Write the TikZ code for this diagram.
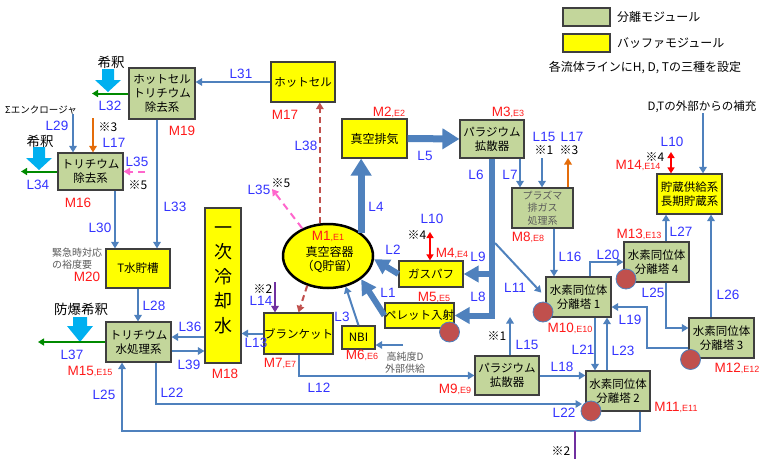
\documentclass[tikz,border=0pt]{standalone}
\usepackage{fontspec}
\setmainfont{Noto Sans CJK JP}
\newfontfamily\arialf{Liberation Sans}
\usetikzlibrary{arrows.meta,shapes.geometric,calc}
\definecolor{gfill}{HTML}{C3D69B}
\definecolor{yfill}{HTML}{FFFF00}
\definecolor{bord}{HTML}{3F3F3F}
\definecolor{steel}{HTML}{4F81BD}
\definecolor{lblue}{HTML}{3333FF}
\definecolor{lred}{HTML}{FF1A1A}
\definecolor{dgreen}{HTML}{008A00}
\definecolor{orng}{HTML}{E46C0A}
\definecolor{purp}{HTML}{7030A0}
\definecolor{pinkd}{HTML}{FF66CC}
\definecolor{brn}{HTML}{C0504D}
\definecolor{cyanA}{HTML}{00B0F0}
\definecolor{gtext}{HTML}{595959}
\newcommand\mlab[2]{M#1{\fontsize{9}{9}\selectfont,E#2}}
\newcommand\blockarr[6]{\fill[cyanA] ({#1-#5},#2) -- ({#1+#5},#2) -- ({#1+#5},#3) -- ({#1+#6},#3) -- (#1,#4) -- ({#1-#6},#3) -- ({#1-#5},#3) -- cycle;}
\tikzset{
  gbox/.style 2 args={draw=bord, line width=1.2pt, fill=gfill, minimum width=#1pt, minimum height=#2pt, inner sep=0pt, align=center, font=\fontsize{11.5}{14}\selectfont},
  ybox/.style 2 args={draw=bord, line width=1.2pt, fill=yfill, minimum width=#1pt, minimum height=#2pt, inner sep=0pt, align=center, font=\fontsize{11.5}{14}\selectfont},
  lb/.style={text=lblue, font=\arialf\fontsize{13.5}{14}\selectfont, inner sep=0pt},
  ml/.style={text=lred, font=\arialf\fontsize{13.5}{14}\selectfont, inner sep=0pt},
  nt/.style={font=\fontsize{12}{12}\selectfont, inner sep=0pt},
  conn/.style={draw=steel, line width=2pt, -{Triangle[width=7.5pt,length=6.5pt]}},
  thk/.style={draw=steel, line width=7pt, -{Triangle[width=20pt,length=17pt]}},
  thkm/.style={draw=steel, line width=6pt, -{Triangle[width=16pt,length=15pt]}},
  grn/.style={draw=dgreen, line width=2pt, -{Triangle[width=7pt,length=6pt]}},
  orn/.style={draw=orng, line width=2pt, -{Triangle[width=7.5pt,length=6.5pt]}},
  prp/.style={draw=purp, line width=2pt, -{Triangle[width=7.5pt,length=6.5pt]}},
  redarr/.style={draw=red, line width=1.6pt, {Triangle[width=7pt,length=6pt]}-{Triangle[width=7pt,length=6pt]}},
  brndash/.style={draw=brn, line width=2pt, dash pattern=on 6pt off 4pt, -{Triangle[width=7.5pt,length=6.5pt]}},
  pnkdash/.style={draw=pinkd, line width=2pt, dash pattern=on 7pt off 5pt, -{Triangle[width=7.5pt,length=6.5pt]}},
  rdot/.style={circle, fill=brn, draw=steel, line width=0.8pt, minimum size=20pt, inner sep=0pt},
}
\begin{document}
\begin{tikzpicture}[x=1pt,y=-1pt]
\useasboundingbox (0,0) rectangle (760,458);

% helper coordinates
\foreach \xx in {73,93,115,122,156,157,510,520,542,554,568,575,590,595,607,640,666,671,703,711}{\coordinate (x\xx) at (\xx,0);}
\coordinate (y337) at (0,337);
\coordinate (y351) at (0,351);

% legend
\node[gbox={47}{18}] (legG) at (586.5,17) {};
\node[ybox={47}{18}] (legY) at (586.5,43) {};
\node[anchor=west, inner sep=0pt, font=\fontsize{12}{12}\selectfont] (legGt) at (617,17) {分離モジュール};
\node[anchor=west, inner sep=0pt, font=\fontsize{12}{12}\selectfont] (legYt) at (617,43) {バッファモジュール};
\node[inner sep=0pt, font=\fontsize{12}{12}\selectfont] (legN) at (645,68) {各流体ラインにH, D, Tの三種を設定};

% boxes
\node[ybox={64}{40}] (hot) at (303,82) {ホットセル};
\node[ybox={65}{39}, font=\fontsize{12}{14}\selectfont] (vac) at (374.5,138.5) {真空排気};
\node[gbox={64}{38}] (pd1) at (492,139) {パラジウム\\拡散器};
\node[gbox={61}{40}, text=gtext, font=\fontsize{10}{12.5}\selectfont] (plasma) at (542.5,208) {プラズマ\\排ガス\\処理系};
\node[ybox={65}{40}] (store) at (689.5,194) {貯蔵供給系\\長期貯蔵系};
\node[gbox={65}{40}] (s4) at (656.5,262) {水素同位体\\分離塔 4};
\node[gbox={65}{40}] (s1) at (578.5,297) {水素同位体\\分離塔 1};
\node[gbox={65}{40}] (s3) at (721.5,338) {水素同位体\\分離塔 3};
\node[gbox={64}{40}] (s2) at (618,391) {水素同位体\\分離塔 2};
\node[gbox={64}{39}] (pd2) at (507,375.5) {パラジウム\\拡散器};
\node[ybox={64}{26}] (gas) at (431,274) {ガスパフ};
\node[ybox={65}{25}] (pellet) at (419.5,315.5) {ペレット入射};
\node[ybox={33}{23}] (nbi) at (358.5,337.5) {NBI};
\node[ybox={65}{41}] (blanket) at (298.5,333.5) {ブランケット};
\node[ybox={36}{155}] (cool) at (223,285.5) {};
\node[inner sep=0pt, align=center, font=\fontsize{18}{24.5}\selectfont] (coolt) at (223,280) {一\\次\\冷\\却\\水};
\node[gbox={65}{40}] (tws) at (138.5,342) {トリチウム\\水処理系};
\node[ybox={64}{39}] (tank) at (138,268.5) {T水貯槽};
\node[gbox={66}{51}] (hotrm) at (162,93.5) {ホットセル\\トリチウム\\除去系};
\node[gbox={65}{37}] (trm) at (90.5,171.5) {トリチウム\\除去系};
\node[ellipse, draw=black, line width=2.5pt, fill=yfill, minimum width=90pt, minimum height=64pt, inner sep=0pt] (vessel) at (328,256) {};
\node[ml] (tM1) at (328,236) {\mlab{1}{1}};
\node[inner sep=0pt, font=\fontsize{12}{12}\selectfont] (tv1) at (329.5,252) {真空容器};
\node[inner sep=0pt, font=\fontsize{12}{12}\selectfont] (tv2) at (330,266) {（Q貯留）};

% cyan dilution arrows
\blockarr{108}{69}{80}{92}{6}{13}
\blockarr{39}{147}{158}{170}{6}{13}
\blockarr{80}{317}{326}{342}{7}{13}

% free-end coordinates
\coordinate (l32e) at (92,93.5);
\coordinate (l34e) at (21,171.5);
\coordinate (l37e) at (38,342);
\coordinate (l29s) at (73,114);
\coordinate (l17s) at (93,118);
\coordinate (l35s) at (145,171.5);
\coordinate (l35e) at (272,189);
\coordinate (l14s) at (275,282);
\coordinate (nbis) at (403,345);
\coordinate (l15b) at (510,317);
\coordinate (l22e) at (582,404);
\coordinate (c25) at (640,431);
\coordinate (p2s) at (575,431);
\coordinate (p2e) at (575,462);
\coordinate (l11s) at (495,243);
\coordinate (l15t) at (542,158);
\coordinate (l17t) at (568,158);
\coordinate (c19) at (647,307);
\coordinate (l10s) at (671,152);
\coordinate (l10g) at (430,232);

% thick flows
\draw[thk] (vac.east) -- (pd1.west);
\draw[thk] (vessel.35) -- (vessel.35 |- vac.south);
\draw[thkm] (pd1.south) |- (pellet.east);
\draw[thkm] (pd1.south |- gas.east) -- (gas.east);
\draw[thkm] (pellet.west) -- (vessel.-35);
\draw[thkm] (gas.west) -- (vessel.-4);

% thin flows left
\draw[conn] (hot.west) -- (hot.west -| hotrm.east);
\draw[conn] (x157 |- hotrm.south) -- (x157 |- tank.north);
\draw[conn] (x115 |- trm.south) -- (x115 |- tank.north);
\draw[conn] (tank.south) -- (tank.south |- tws.north);
\draw[conn] (l29s) -- (l29s |- trm.north);
\draw[orn] (l17s) -- (l17s |- trm.north);
\draw[pnkdash] (l35s) -- (trm.east);
\draw[grn] (hotrm.west) -- (l32e);
\draw[grn] (trm.west) -- (l34e);
\draw[grn] (tws.west) -- (l37e);
\draw[conn] (cool.west |- y337) -- (tws.east |- y337);
\draw[conn] (tws.east |- y351) -- (cool.west |- y351);
\draw[conn] (blanket.west) -- (blanket.west -| cool.east);
\draw[prp] (l14s) -- (l14s |- blanket.north);
\draw[brndash] (vessel.235) -- (blanket.north);
\draw[brndash] (vessel.104) -- (vessel.104 |- hot.south);
\draw[pnkdash] (vessel.133) -- (l35e);
\draw[conn] (nbi.north) -- (vessel.300);
\draw[conn] (nbis) -- (nbis -| nbi.east);
\draw[conn] (blanket.south) |- (pd2.west);
\draw[conn] (l15b |- pd2.north) -- (l15b);
\draw[conn] (pd2.east) -- (pd2.east -| s2.west);
\draw[conn] (x156 |- tws.south) |- (l22e);
\draw[conn] (x640 |- s2.south) -- (c25) -| (x122 |- tws.south);
\draw[draw=purp, line width=2pt] (p2s) -- (p2e);

% thin flows right
\draw[conn, shorten >=6pt] (l11s) -- (s1.west);
\draw[conn] (x520 |- pd1.south) -- (x520 |- plasma.north);
\draw[conn] (l15t) -- (l15t |- plasma.north);
\draw[orn] (l17t |- plasma.north) -- (l17t);
\draw[conn] (x554 |- plasma.south) -- (x554 |- s1.north);
\draw[conn] (x590 |- s1.north) |- (s4.west);
\draw[conn] (x595 |- s1.south) -- (x595 |- s2.north);
\draw[conn] (x607 |- s2.north) -- (x607 |- s1.south);
\draw[conn] ([yshift=-10pt]s3.west) -| (c19) -- (c19 -| s1.east);
\draw[conn] (x666 |- s4.south) |- ([yshift=10pt]s3.west);
\draw[conn] (x666 |- s4.north) -- (x666 |- store.south);
\draw[conn] (x711 |- s3.north) -- (x711 |- store.south);
\node[inner sep=0pt, font=\fontsize{11.5}{12}\selectfont] (dtext) at (702,107) {D,Tの外部からの補充};
\draw[conn] (x703 |- dtext.south) -- (x703 |- store.north);
\draw[redarr] (l10s) -- (l10s |- store.north);
\draw[redarr] (l10g) -- (l10g |- gas.north);

% red dots
\node[rdot] (d5) at (449.5,332) {};
\node[rdot] (d1) at (543,312) {};
\node[rdot] (d4) at (626,279) {};
\node[rdot] (d3) at (690.5,359.5) {};
\node[rdot] (d2) at (591,411) {};

% blue line labels
\node[lb] (tL31) at (241,74) {L31};
\node[lb] (tL32) at (110,106) {L32};
\node[lb] (tL29) at (57,126) {L29};
\node[lb] (tL17a) at (114,143) {L17};
\node[lb] (tL35a) at (137,162) {L35};
\node[lb] (tL34) at (38,185) {L34};
\node[lb] (tL33) at (175,207) {L33};
\node[lb] (tL30) at (100,228) {L30};
\node[lb] (tL28) at (154,306) {L28};
\node[lb] (tL36) at (190,327) {L36};
\node[lb] (tL39) at (189,365) {L39};
\node[lb] (tL37) at (72,355) {L37};
\node[lb] (tL25a) at (104,395) {L25};
\node[lb] (tL22a) at (172,393) {L22};
\node[lb] (tL38) at (306,146) {L38};
\node[lb] (tL35b) at (259,190) {L35};
\node[lb] (tL4) at (376,207) {L4};
\node[lb] (tL5) at (425,156) {L5};
\node[lb] (tL6) at (476,175) {L6};
\node[lb] (tL7) at (510,175) {L7};
\node[lb] (tL15a) at (544,137) {L15};
\node[lb] (tL17b) at (572,137) {L17};
\node[lb] (tL10a) at (432,219) {L10};
\node[lb] (tL2) at (393,250) {L2};
\node[lb] (tL9) at (478,257) {L9};
\node[lb] (tL1) at (388,293) {L1};
\node[lb] (tL8) at (478,297) {L8};
\node[lb] (tL11) at (515,288) {L11};
\node[lb] (tL14) at (261,301) {L14};
\node[lb] (tL3) at (342,317) {L3};
\node[lb] (tL13) at (256,343) {L13};
\node[lb] (tL12) at (319,388) {L12};
\node[lb] (tL15b) at (527,345) {L15};
\node[lb] (tL18) at (562,367) {L18};
\node[lb] (tL16) at (570,257) {L16};
\node[lb] (tL20) at (608,255) {L20};
\node[lb] (tL21) at (583,350) {L21};
\node[lb] (tL23) at (623,351) {L23};
\node[lb] (tL19) at (630,320) {L19};
\node[lb] (tL25b) at (653,293) {L25};
\node[lb] (tL27) at (681,232) {L27};
\node[lb] (tL26) at (728,295) {L26};
\node[lb] (tL10b) at (672,142) {L10};
\node[lb] (tL22b) at (564,413) {L22};

% red module labels
\node[ml] (tM17) at (285,115) {M17};
\node[ml] (tM2) at (389,112) {\mlab{2}{2}};
\node[ml] (tM3) at (508,112) {\mlab{3}{3}};
\node[ml] (tM4) at (452,253) {\mlab{4}{4}};
\node[ml] (tM5) at (434,297) {\mlab{5}{5}};
\node[ml] (tM6) at (362,355) {\mlab{6}{6}};
\node[ml] (tM7) at (280,363) {\mlab{7}{7}};
\node[ml] (tM8) at (528,237) {\mlab{8}{8}};
\node[ml] (tM9) at (455,389) {\mlab{9}{9}};
\node[ml] (tM10) at (570,328) {\mlab{10}{10}};
\node[ml] (tM11) at (676,407) {\mlab{11}{11}};
\node[ml] (tM12) at (737,368) {\mlab{12}{12}};
\node[ml] (tM13) at (639,234) {\mlab{13}{13}};
\node[ml] (tM14) at (638,165) {\mlab{14}{14}};
\node[ml] (tM15) at (90,371) {\mlab{15}{15}};
\node[ml] (tM16) at (78,203) {M16};
\node[ml] (tM18) at (225,374) {M18};
\node[ml] (tM19) at (182,131) {M19};
\node[ml] (tM20) at (87,277) {M20};

% notes
\node[nt] (n3a) at (108,127) {※3};
\node[nt] (n5a) at (138,185) {※5};
\node[nt] (n5b) at (281,183) {※5};
\node[nt] (n1a) at (544,150) {※1};
\node[nt] (n3b) at (569,150) {※3};
\node[nt] (n4a) at (417,235) {※4};
\node[nt] (n4b) at (655,157) {※4};
\node[nt] (n2a) at (263,289) {※2};
\node[nt] (n1b) at (497,336) {※1};
\node[nt] (n2b) at (561,451) {※2};
\node[inner sep=0pt, font=\fontsize{9.5}{10}\selectfont] (encl) at (41,110) {Σエンクロージャ};
\node[inner sep=0pt, font=\fontsize{13.5}{14}\selectfont] (dil1) at (111,62) {希釈};
\node[inner sep=0pt, font=\fontsize{13.5}{14}\selectfont] (dil2) at (40,141) {希釈};
\node[inner sep=0pt, font=\fontsize{13.5}{14}\selectfont] (dil3) at (81,309) {防爆希釈};
\node[anchor=west, inner sep=0pt, text=gtext, align=left, font=\fontsize{10}{12}\selectfont] (emerg) at (52,259) {緊急時対応\\の裕度要};
\node[inner sep=0pt, text=gtext, align=center, font=\fontsize{10}{12}\selectfont] (hpd) at (405,363) {高純度D\\外部供給};
\end{tikzpicture}
\end{document}
